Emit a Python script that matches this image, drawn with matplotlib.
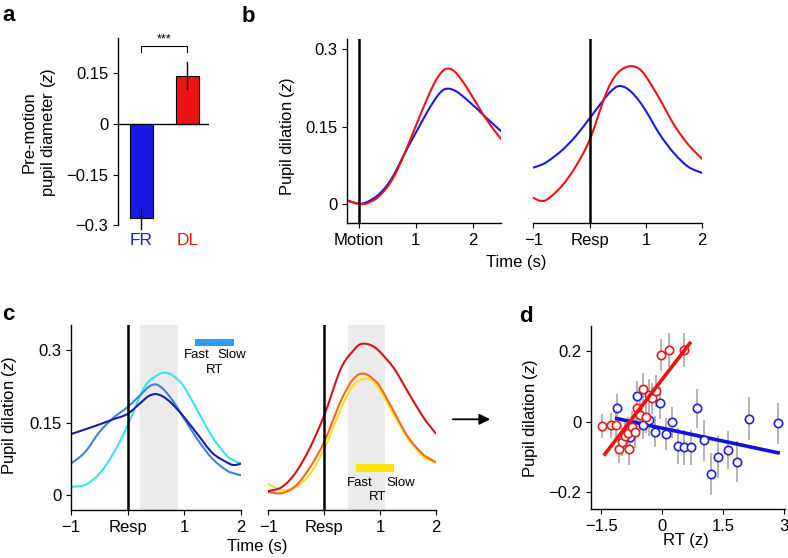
import matplotlib
matplotlib.use("Agg")
import matplotlib.pyplot as plt
import numpy as np
from matplotlib.patches import Rectangle, PathPatch, FancyArrowPatch
from matplotlib.path import Path

plt.rcParams['font.family'] = ['Liberation Sans', 'DejaVu Sans']
plt.rcParams['mathtext.fontset'] = 'custom'
plt.rcParams['mathtext.rm'] = 'Liberation Sans'
plt.rcParams['mathtext.it'] = 'Liberation Sans:italic'
plt.rcParams['axes.linewidth'] = 1.0
plt.rcParams['xtick.major.size'] = 3.5
plt.rcParams['ytick.major.size'] = 3.5
plt.rcParams['xtick.labelsize'] = 12
plt.rcParams['ytick.labelsize'] = 12

W, H = 788, 558

# ---- panel a: pre-motion pupil diameter
a_groups = ['FR', 'DL']
a_values = [-0.279, 0.143]
a_errors = [0.032, 0.041]

# ---- panel b: pupil dilation, motion-locked and response-locked
b_motion_t = [-0.2, -0.1, 0.0, 0.1, 0.2, 0.3, 0.4, 0.5, 0.6, 0.7, 0.8, 0.9, 1.0, 1.1,
              1.2, 1.3, 1.4, 1.5, 1.6, 1.7, 1.8, 1.9, 2.0, 2.1, 2.2, 2.3, 2.4, 2.5]
b_motion_fr = [0.006, 0.003, 0.0, 0.002, 0.007, 0.014, 0.024, 0.037, 0.054, 0.075, 0.097,
               0.118, 0.138, 0.158, 0.178, 0.196, 0.212, 0.222, 0.223, 0.219, 0.211, 0.202,
               0.192, 0.182, 0.171, 0.161, 0.151, 0.141]
b_motion_dl = [0.007, 0.003, 0.0, 0.0, 0.004, 0.01, 0.02, 0.033, 0.05, 0.072, 0.097, 0.124,
               0.151, 0.178, 0.204, 0.228, 0.248, 0.26, 0.262, 0.255, 0.241, 0.225, 0.207,
               0.189, 0.171, 0.155, 0.14, 0.126]

b_resp_t = [-1, -0.875, -0.75, -0.5, -0.25, 0, 0.25, 0.375, 0.5, 0.625, 0.75, 0.875, 1,
            1.25, 1.5, 1.75, 2]
b_resp_fr = [0.0705, 0.075, 0.082, 0.103, 0.131, 0.166, 0.202, 0.218, 0.228, 0.226, 0.216,
             0.200, 0.18, 0.134, 0.098, 0.072, 0.06]
b_resp_dl = [0.012, 0.006, 0.009, 0.034, 0.072, 0.124, 0.202, 0.234, 0.254, 0.264, 0.267,
             0.262, 0.247, 0.202, 0.153, 0.115, 0.087]

# ---- panel c: response-locked by RT bin
c_t = [-1, -0.75, -0.5, -0.25, 0, 0.25, 0.375, 0.5, 0.625, 0.75, 0.875, 1, 1.25, 1.5,
       1.75, 1.875, 2]
c_fr_fast = [0.017, 0.021, 0.044, 0.086, 0.144, 0.213, 0.235, 0.246, 0.253, 0.251, 0.24,
             0.224, 0.172, 0.12, 0.082, 0.072, 0.065]
c_fr_mid = [0.065, 0.089, 0.13, 0.16, 0.182, 0.21, 0.224, 0.229, 0.22, 0.203, 0.182, 0.158,
            0.113, 0.075, 0.051, 0.045, 0.041]
c_fr_slow = [0.126, 0.136, 0.146, 0.157, 0.168, 0.193, 0.205, 0.209, 0.204, 0.193, 0.178,
             0.161, 0.124, 0.087, 0.068, 0.062, 0.065]
c_dl_fast = [0.023, 0.01, 0.017, 0.044, 0.096, 0.165, 0.198, 0.224, 0.237, 0.241, 0.235,
             0.217, 0.165, 0.117, 0.082, 0.073, 0.066]
c_dl_mid = [0.006, 0.004, 0.02, 0.058, 0.11, 0.182, 0.213, 0.237, 0.25, 0.25, 0.24, 0.224,
            0.172, 0.12, 0.086, 0.076, 0.068]
c_dl_slow = [0.008, 0.017, 0.048, 0.099, 0.165, 0.248, 0.278, 0.296, 0.311, 0.313, 0.308,
             0.296, 0.262, 0.213, 0.165, 0.145, 0.127]
c_fr_window = [0.22, 0.9]
c_dl_window = [0.42, 1.09]

# ---- panel d: pupil dilation vs RT
d_dl_rt = [-1.47, -1.26, -1.14, -1.06, -0.98, -0.91, -0.85, -0.81, -0.74, -0.67, -0.63,
           -0.55, -0.47, -0.40, -0.32, -0.24, -0.14, -0.02, 0.16, 0.54]
d_dl_pupil = [-0.012, -0.01, -0.01, -0.078, -0.058, -0.04, -0.033, -0.077, -0.016, -0.03,
              0.038, 0.019, 0.094, 0.014, 0.075, 0.066, 0.087, 0.189, 0.203, 0.203]
d_dl_err = [0.033, 0.035, 0.035, 0.04, 0.04, 0.04, 0.045, 0.045, 0.045, 0.045, 0.045,
            0.045, 0.045, 0.045, 0.045, 0.045, 0.045, 0.045, 0.048, 0.048]
d_fr_rt = [-1.12, -0.80, -0.63, -0.47, -0.32, -0.18, -0.05, 0.09, 0.25, 0.39, 0.54, 0.70,
           0.85, 1.02, 1.19, 1.38, 1.61, 1.84, 2.14, 2.85]
d_fr_pupil = [0.038, -0.042, 0.074, -0.009, 0.005, -0.028, 0.054, -0.035, -0.002, -0.069,
              -0.073, -0.073, 0.038, -0.053, -0.148, -0.10, -0.079, -0.113, 0.009, -0.004]
d_fr_err = [0.04, 0.04, 0.04, 0.04, 0.045, 0.045, 0.045, 0.045, 0.045, 0.05, 0.05, 0.05,
            0.055, 0.059, 0.06, 0.059, 0.054, 0.059, 0.062, 0.058]
d_dl_fit_x = [-1.41, 0.68]
d_dl_fit_y = [-0.092, 0.222]
d_fr_fit_x = [-1.12, 2.85]
d_fr_fit_y = [0.009, -0.088]

BLUE = '#1a1ae6'
RED = '#ee1414'
FR_COLS = ['#35e4f2', '#3a84de', '#1c1ca8']
DL_COLS = ['#f7e11e', '#f0691e', '#d3141c']
SHADE = '#ebebeb'


def px_axes(fig, x0, y0, x1, y1):
    # axes from pixel box (top-left origin)
    return fig.add_axes([x0 / W, 1 - y1 / H, (x1 - x0) / W, (y1 - y0) / H])


def ftext(fig, x, y, s, **kw):
    fig.text(x / W, 1 - y / H, s, **kw)


def smooth_line(ax, x, y, color, lw=1.5):
    # draw the read points as a smooth bezier curve (Catmull-Rom control points)
    p = np.column_stack([x, y]).astype(float)
    verts = [p[0]]
    codes = [Path.MOVETO]
    for i in range(len(p) - 1):
        p0 = p[i - 1] if i > 0 else p[i]
        p3 = p[i + 2] if i + 2 < len(p) else p[i + 1]
        verts += [p[i] + (p[i + 1] - p0) / 6, p[i + 1] - (p3 - p[i]) / 6, p[i + 1]]
        codes += [Path.CURVE4] * 3
    ax.add_patch(PathPatch(Path(verts, codes), fill=False, edgecolor=color, lw=lw,
                           capstyle='round', joinstyle='round'))


fig = plt.figure(figsize=(W / 100, H / 100), dpi=100)

# ---------------- a
ax = px_axes(fig, 118, 38, 209, 232.2)
ax.bar([0, 1], a_values, width=0.5, color=[BLUE, RED], edgecolor='k', linewidth=0.8,
       zorder=2)
for i, (v, e) in enumerate(zip(a_values, a_errors)):
    ax.plot([i, i], [v - e, v + e], color='k', lw=1.0, zorder=3, clip_on=False)
ax.axhline(0, color='k', lw=1.0)
ax.set_xlim(-0.51, 1.47)
ax.set_ylim(-0.32, 0.254)
ax.spines[['top', 'right', 'bottom']].set_visible(False)
ax.spines['left'].set_bounds(-0.3, 0.254)
ax.set_xticks([])
ax.set_yticks([0.15, 0, -0.15, -0.3])
ax.set_yticklabels(['0.15', '0', '\u22120.15', '\u22120.3'])
ax.plot([0, 0, 1, 1], [0.214, 0.229, 0.229, 0.214], color='k', lw=0.8, clip_on=False)
ax.text(0.5, 0.233, '***', ha='center', va='bottom', fontsize=9)
for i, (g, c) in enumerate(zip(a_groups, [BLUE, RED])):
    ax.text(i, -0.322, g, ha='center', va='top', color=c, fontsize=12.5)
ftext(fig, 40, 132, 'Pre-motion\npupil diameter ($z$)', rotation=90, ha='center',
      va='center', fontsize=12, linespacing=1.15)

# ---------------- b
axl = px_axes(fig, 347.3, 39.3, 501, 223.3)
smooth_line(axl, b_motion_t, b_motion_fr, BLUE)
smooth_line(axl, b_motion_t, b_motion_dl, RED)
axl.axvline(0, color='k', lw=1.8)
axl.set_xlim(-0.206, 2.5)
axl.set_ylim(-0.0375, 0.319)
axl.spines[['top', 'right']].set_visible(False)
axl.set_xticks([0, 1, 2])
axl.set_xticklabels(['Motion', '1', '2'])
axl.set_yticks([0, 0.15, 0.3])
axl.set_yticklabels(['0', '0.15', '0.3'])

axr = px_axes(fig, 533.3, 39.3, 702.3, 223.3)
smooth_line(axr, b_resp_t, b_resp_fr, BLUE)
smooth_line(axr, b_resp_t, b_resp_dl, RED)
axr.axvline(0, color='k', lw=1.8)
axr.set_xlim(-1, 2)
axr.set_ylim(-0.0375, 0.319)
axr.spines[['top', 'right', 'left']].set_visible(False)
axr.set_yticks([])
axr.set_xticks([-1, 0, 1, 2])
axr.set_xticklabels(['\u22121', 'Resp', '1', '2'])
ftext(fig, 287.5, 136, 'Pupil dilation ($z$)', rotation=90, ha='center', va='center',
      fontsize=12)
ftext(fig, 516, 262, 'Time (s)', ha='center', va='center', fontsize=12)

# ---------------- c
for x0, x1, cols, series, win, bar, labs in [
        (71, 240.7, FR_COLS, [c_fr_fast, c_fr_mid, c_fr_slow], c_fr_window,
         ([1.19, 1.88], [0.308, 0.323]), ([1.22, 1.85, 1.54], [0.290, 0.259])),
        (268.3, 436, DL_COLS, [c_dl_fast, c_dl_mid, c_dl_slow], c_dl_window,
         ([0.57, 1.25], [0.047, 0.064]), ([0.64, 1.37, 0.95], [0.025, -0.005]))]:
    ax = px_axes(fig, x0, 325, x1, 510)
    ax.axvspan(win[0], win[1], color=SHADE, lw=0, zorder=0)
    for s, c in zip(series, cols):
        smooth_line(ax, c_t, s, c)
    ax.axvline(0, color='k', lw=1.8)
    ax.set_xlim(-1, 2)
    ax.set_ylim(-0.031, 0.352)
    ax.spines[['top', 'right']].set_visible(False)
    ax.set_xticks([-1, 0, 1, 2])
    ax.set_xticklabels(['\u22121', 'Resp', '1', '2'])
    (bx, by) = bar
    ax.add_patch(Rectangle((bx[0], by[0]), bx[1] - bx[0], by[1] - by[0],
                           color='#2f9bee' if cols is FR_COLS else '#ffe60a', lw=0))
    (lx, ly) = labs
    ax.text(lx[0], ly[0], 'Fast', ha='center', va='center', fontsize=9.5)
    ax.text(lx[1], ly[0], 'Slow', ha='center', va='center', fontsize=9.5)
    ax.text(lx[2], ly[1], 'RT', ha='center', va='center', fontsize=9.5)
    if cols is FR_COLS:
        ax.set_yticks([0, 0.15, 0.3])
        ax.set_yticklabels(['0', '0.15', '0.3'])
    else:
        ax.spines['left'].set_visible(False)
        ax.set_yticks([])
ftext(fig, 10, 415, 'Pupil dilation ($z$)', rotation=90, ha='center', va='center',
      fontsize=12)
ftext(fig, 257, 546, 'Time (s)', ha='center', va='center', fontsize=12)

fig.add_artist(FancyArrowPatch(
    (450 / W, 1 - 419.3 / H), (493 / W, 1 - 419.3 / H), transform=fig.transFigure,
    arrowstyle='-|>', mutation_scale=16, color='k', lw=1.3))

# ---------------- d
ax = px_axes(fig, 591, 326, 785, 509.3)
ax.errorbar(d_fr_rt, d_fr_pupil, yerr=d_fr_err, fmt='none', ecolor='#b3b3b3',
            elinewidth=1.4, zorder=1)
ax.errorbar(d_dl_rt, d_dl_pupil, yerr=d_dl_err, fmt='none', ecolor='#b3b3b3',
            elinewidth=1.4, zorder=1)
ax.plot(d_fr_fit_x, d_fr_fit_y, color='#1010e0', lw=2.6, zorder=2)
ax.plot(d_fr_rt, d_fr_pupil, 'o', mfc='white', mec='#2020d0', ms=6, mew=1.2, zorder=3)
ax.plot(d_dl_rt, d_dl_pupil, 'o', mfc='white', mec='#e81818', ms=6, mew=1.2, zorder=4)
ax.plot(d_dl_fit_x, d_dl_fit_y, color='#f01010', lw=2.6, zorder=5)
ax.set_xlim(-1.75, 3.02)
ax.set_ylim(-0.248, 0.271)
ax.spines[['top', 'right']].set_visible(False)
ax.set_xticks([-1.5, 0, 1.5, 3])
ax.set_xticklabels(['\u22121.5', '0', '1.5', '3'])
ax.set_yticks([-0.2, 0, 0.2])
ax.set_yticklabels(['\u22120.2', '0', '0.2'])
ftext(fig, 530, 418, 'Pupil dilation ($z$)', rotation=90, ha='center', va='center',
      fontsize=12)
ftext(fig, 686, 540, 'RT (z)', ha='center', va='center', fontsize=12)

# panel letters
for x, y, s in [(2, 21, 'a'), (242, 22, 'b'), (2, 320, 'c'), (519, 322, 'd')]:
    ftext(fig, x, y, s, fontsize=16, fontweight='bold', va='baseline')

fig.savefig('out.png', dpi=100)
